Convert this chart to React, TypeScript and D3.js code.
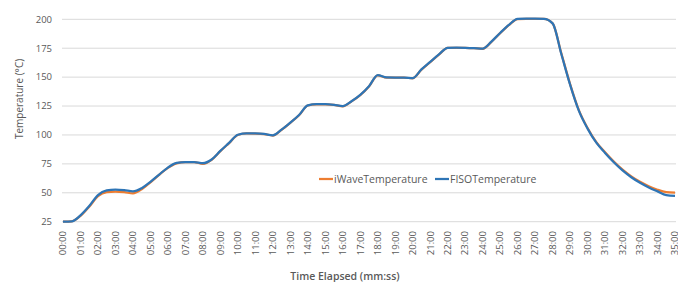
import React, { useEffect, useRef } from "react";
import * as d3 from "d3";

// minutes elapsed, sampled every 30 s
const minutes = [
  0, 0.5, 1, 1.5, 2, 2.5, 3, 3.5, 4, 4.5, 5, 5.5, 6, 6.5, 7, 7.5, 8, 8.5, 9, 9.5,
  10, 10.5, 11, 11.5, 12, 12.5, 13, 13.5, 14, 14.5, 15, 15.5, 16, 16.5, 17, 17.5,
  18, 18.5, 19, 19.5, 20, 20.5, 21, 21.5, 22, 22.5, 23, 23.5, 24, 24.5, 25, 25.5,
  26, 26.5, 27, 27.5, 28, 28.5, 29, 29.5, 30, 30.5, 31, 31.5, 32, 32.5, 33, 33.5,
  34, 34.5, 35,
];

const iWaveTemperature = [
  25, 25.3, 30, 38, 47, 50.5, 51, 50.5, 49.5, 53, 59, 65.5, 71.5, 75.5, 76.5, 76.5,
  75, 78.5, 86, 93, 100, 101.3, 101.2, 100.8, 99.5, 104.5, 110.5, 117, 125.5, 126.5,
  126.5, 126, 124.8, 129, 134.5, 142, 151.5, 149.5, 149.5, 149.5, 149, 156.5, 163,
  169.5, 175.2, 175.4, 175.3, 175, 174.5, 180.5, 188, 195, 200.2, 200.4, 200.4,
  200.3, 196.5, 170.5, 144, 121.5, 106, 93.8, 85, 77, 70, 64.2, 59.5, 55.7, 52.6,
  50.6, 50.2,
];

const fisoTemperature = [
  25, 25.3, 30.5, 38.5, 48, 52, 52.8, 52.3, 51.2, 54, 59.5, 65.8, 71.8, 75.8, 76.6,
  76.6, 75.6, 78.8, 86.2, 93.2, 100.2, 101.4, 101.3, 100.9, 99.7, 104.6, 110.7, 117.2,
  125.6, 126.6, 126.6, 126.1, 125, 129.2, 134.7, 142.2, 151.8, 149.7, 149.6, 149.6,
  149.1, 156.7, 163.2, 169.7, 175.3, 175.5, 175.4, 175.1, 174.6, 180.7, 188.2, 195.2,
  200.3, 200.5, 200.5, 200.4, 196.5, 170, 143.5, 121, 105.5, 93.3, 84.5, 76.4, 69.3,
  63.4, 58.6, 54.6, 51.2, 48, 47.4,
];

const tickMinutes = [
  0, 1, 2, 3, 4, 5, 6, 7, 8, 9, 10, 11, 12, 13, 14, 15, 16, 17, 18, 19, 20, 21, 22,
  23, 24, 25, 26, 27, 28, 29, 30, 31, 32, 33, 34, 35,
];
const tickLabels = [
  "00:00", "01:00", "02:00", "03:00", "04:00", "05:00", "06:00", "07:00", "08:00",
  "09:00", "10:00", "11:00", "12:00", "13:00", "14:00", "15:00", "16:00", "17:00",
  "18:00", "19:00", "20:00", "21:00", "22:00", "23:00", "24:00", "25:00", "26:00",
  "27:00", "28:00", "29:00", "30:00", "31:00", "32:00", "33:00", "34:00", "35:00",
];
const yTicks = [25, 50, 75, 100, 125, 150, 175, 200];

const seriesNames = ["iWaveTemperature", "FISOTemperature"];
const seriesColors = ["#ed7d31", "#2e75b6"];

const width = 678;
const height = 282;
const font = "'Open Sans', 'Noto Sans', sans-serif";

const App = () => {
  const ref = useRef<SVGSVGElement | null>(null);

  useEffect(() => {
    const svg = d3.select(ref.current);
    svg.selectAll("*").remove();

    const x = d3.scaleLinear().domain([0, 35]).range([63, 675]);
    const y = d3.scaleLinear().domain([25, 200]).range([221.7, 19.3]);

    // gridlines
    svg
      .append("g")
      .selectAll("line")
      .data(yTicks)
      .join("line")
      .attr("x1", 62)
      .attr("x2", 676)
      .attr("y1", (d) => y(d))
      .attr("y2", (d) => y(d))
      .attr("stroke", "#d9d9d9")
      .attr("stroke-width", 1);

    // y tick labels
    svg
      .append("g")
      .selectAll("text")
      .data(yTicks)
      .join("text")
      .attr("x", 52)
      .attr("y", (d) => y(d))
      .attr("dy", "0.35em")
      .attr("text-anchor", "end")
      .attr("font-family", font)
      .attr("font-size", 9.5)
      .attr("fill", "#595959")
      .text((d) => d);

    // x tick labels, rotated
    svg
      .append("g")
      .selectAll("text")
      .data(tickMinutes)
      .join("text")
      .attr("transform", (d) => `translate(${x(d)},231) rotate(-90)`)
      .attr("dy", "0.35em")
      .attr("text-anchor", "end")
      .attr("font-family", font)
      .attr("font-size", 9.5)
      .attr("fill", "#595959")
      .text((d, i) => tickLabels[i]);

    // axis titles
    svg
      .append("text")
      .attr("x", 345)
      .attr("y", 276)
      .attr("dy", "0.35em")
      .attr("text-anchor", "middle")
      .attr("font-family", font)
      .attr("font-size", 10.5)
      .attr("font-weight", 600)
      .attr("fill", "#595959")
      .text("Time Elapsed (mm:ss)");

    svg
      .append("text")
      .attr("transform", "translate(19,99) rotate(-90)")
      .attr("dy", "0.35em")
      .attr("text-anchor", "middle")
      .attr("font-family", font)
      .attr("font-size", 10)
      .attr("fill", "#595959")
      .text("Temperature (°C)");

    // lines
    const line = d3
      .line<number>()
      .x((d, i) => x(minutes[i]))
      .y((d) => y(d))
      .curve(d3.curveMonotoneX);

    [iWaveTemperature, fisoTemperature].forEach((values, i) => {
      svg
        .append("path")
        .datum(values)
        .attr("d", line)
        .attr("fill", "none")
        .attr("stroke", seriesColors[i])
        .attr("stroke-width", 2.25)
        .attr("stroke-linejoin", "round");
    });

    // legend
    const legendX = [319, 435];
    const legend = svg
      .append("g")
      .selectAll("g")
      .data(seriesNames)
      .join("g")
      .attr("transform", (d, i) => `translate(${legendX[i]},179)`);
    legend
      .append("line")
      .attr("x1", 0)
      .attr("x2", 14)
      .attr("stroke", (d, i) => seriesColors[i])
      .attr("stroke-width", 2.25);
    legend
      .append("text")
      .attr("x", 15)
      .attr("dy", "0.35em")
      .attr("font-family", font)
      .attr("font-size", 10.5)
      .attr("fill", "#595959")
      .text((d) => d);
  }, []);

  return (
    <svg
      ref={ref}
      width={width}
      height={height}
      style={{ position: "absolute", left: 0, top: 0, background: "#fff" }}
    />
  );
};

export default App;
